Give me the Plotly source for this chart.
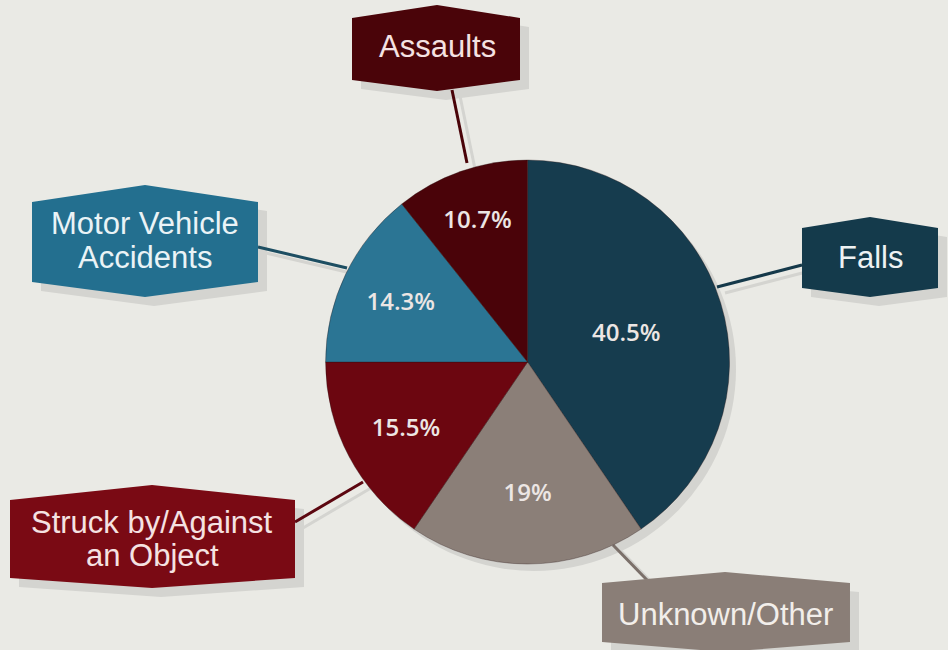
import plotly.graph_objects as go

# ---- data ----
categories = ["Falls", "Unknown/Other", "Struck by/Against<br>an Object",
              "Motor Vehicle<br>Accidents", "Assaults"]
values = [40.5, 19, 15.5, 14.3, 10.7]
value_text = ["40.5%", "19%", "15.5%", "14.3%", "10.7%"]
slice_colors = ["#163c4e", "#8b7f78", "#6c0610", "#2b7594", "#4a0309"]
box_colors = ["#143a4b", "#8a7e77", "#7a0a14", "#236f8f", "#4a0409"]
line_colors = ["#15394a", "#7b706a", "#5c0710", "#1d4e62", "#4a0409"]
text_colors = ["#eef2f3", "#f2eeea", "#f5e2e2", "#eaf3f6", "#f5e2e2"]

W, H = 948, 650
BG = "#eaeae5"
SHADOW = "#d4d4d0"

# label box geometry in pixels: L, R, T(side top), P(peak top), B(side bottom), Q(peak bottom), C(center x), text y
boxes = [
    (802, 938, 228, 217, 288, 297, 870, [257]),
    (602, 850, 583, 572, 642, 652, 725, [614]),
    (10, 295, 500, 485, 578, 588, 152, [522, 555]),
    (32, 258, 202, 185, 282, 297, 145, [224, 257]),
    (352, 520, 18, 5, 80, 91, 437, [47]),
]
connectors = [
    ((802, 265), (717, 287)),
    ((613, 545), (647, 580)),
    ((295, 522), (363, 482)),
    ((258, 247), (347, 268)),
    ((452, 90), (467, 163)),
]

def px(x):
    return x / W

def py(y):
    return 1 - y / H

def hexpath(L, R, T, P, B, Q, C, dx=0, dy=0):
    pts = [(L, T), (C, P), (R, T), (R, B), (C, Q), (L, B)]
    s = ""
    for i, (x, y) in enumerate(pts):
        s += ("M" if i == 0 else "L") + f"{px(x+dx):.5f},{py(y+dy):.5f} "
    return s + "Z"

fig = go.Figure()
fig.add_trace(go.Pie(
    labels=categories,
    values=values,
    text=value_text,
    textinfo="text",
    textposition="inside",
    insidetextorientation="horizontal",
    sort=False,
    direction="clockwise",
    rotation=0,
    marker=dict(colors=slice_colors, line=dict(color="rgba(40,20,20,0.35)", width=1)),
    textfont=dict(family="Open Sans", size=24, weight=600, color="#ece6e4"),
    domain=dict(x=[0.343, 0.770], y=[0.1323, 0.7538]),
    showlegend=False,
    hoverinfo="label+percent",
))

shapes = []
# pie shadow
cx, cy, r = 527, 362, 202
shapes.append(dict(type="circle", xref="paper", yref="paper", layer="below",
                   x0=px(cx - r + 7), x1=px(cx + r + 7), y0=py(cy + r + 7), y1=py(cy - r + 7),
                   fillcolor=SHADOW, line=dict(width=0)))
annotations = []
for i, (L, R, T, P, B, Q, C, ty) in enumerate(boxes):
    (x0, y0), (x1, y1) = connectors[i]
    # connector shadow
    shapes.append(dict(type="line", xref="paper", yref="paper", layer="below",
                       x0=px(x0 + 8), y0=py(y0 + 6), x1=px(x1 + 8), y1=py(y1 + 6),
                       line=dict(color=SHADOW, width=3)))
    # box shadow
    shapes.append(dict(type="path", xref="paper", yref="paper", layer="below",
                       path=hexpath(L, R, T, P, B, Q, C, 9, 9),
                       fillcolor=SHADOW, line=dict(width=0)))
    shapes.append(dict(type="line", xref="paper", yref="paper", layer="below",
                       x0=px(x0), y0=py(y0), x1=px(x1), y1=py(y1),
                       line=dict(color=line_colors[i], width=3)))
    shapes.append(dict(type="path", xref="paper", yref="paper", layer="below",
                       path=hexpath(L, R, T, P, B, Q, C),
                       fillcolor=box_colors[i], line=dict(width=0)))
    for line_txt, yy in zip(categories[i].split("<br>"), ty):
        annotations.append(dict(text=line_txt, x=px(C), y=py(yy), xref="paper", yref="paper",
                                showarrow=False, xanchor="center", yanchor="middle",
                                font=dict(family="Liberation Sans", size=31, color=text_colors[i])))

fig.update_layout(
    width=W, height=H,
    margin=dict(l=0, r=0, t=0, b=0),
    paper_bgcolor=BG, plot_bgcolor=BG,
    shapes=shapes, annotations=annotations,
)
fig.write_html("out.html")
